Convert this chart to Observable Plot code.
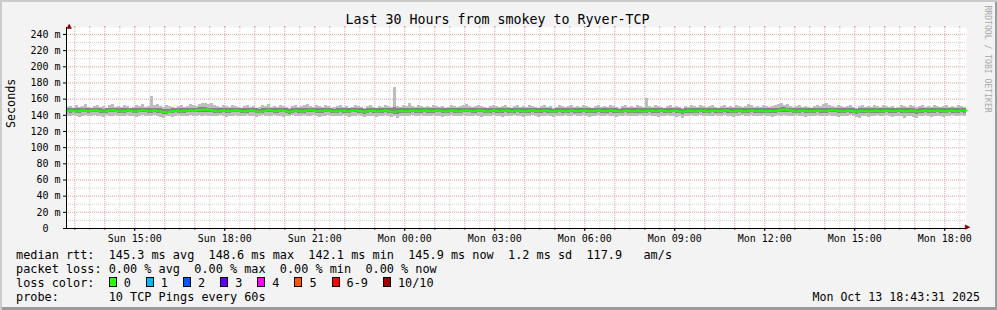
<!DOCTYPE html>
<html><head><meta charset="utf-8">
<script src="https://cdn.jsdelivr.net/npm/d3@7"></script>
<script src="https://cdn.jsdelivr.net/npm/@observablehq/plot@0.6"></script>
<style>
html,body{margin:0;padding:0;background:#f3f3f3;}
#wrap{position:relative;width:997px;height:310px;background:#f3f3f3;overflow:hidden;font-family:"DejaVu Sans Mono",monospace;color:#000;}
#wrap::after{content:"";position:absolute;left:0;top:0;right:0;bottom:0;box-shadow:inset 2px 2px 0 #cbcbcb, inset -2px -3px 0 #9b9b9b;pointer-events:none;}
#chart{position:absolute;left:0;top:0;}
.title{position:absolute;left:-1px;top:12.5px;width:997px;text-align:center;font-size:13.3px;line-height:1;white-space:pre;}
.leg{position:absolute;left:16px;font-size:11.85px;line-height:14px;white-space:pre;}
.date{position:absolute;right:17px;font-size:11.6px;line-height:14px;white-space:pre;}
.box{display:inline-block;width:8px;height:10px;box-sizing:border-box;border:1px solid #000;margin-right:7px;vertical-align:baseline;}
.lab{margin-right:15px;}
</style>
</head><body>
<div id="wrap">
  <div id="chart"></div>
  <div class="title" id="title"></div>
  <div class="leg" id="l1" style="top:247.5px"></div>
  <div class="leg" id="l2" style="top:261.5px"></div>
  <div class="leg" id="l3" style="top:275.5px"></div>
  <div class="leg" id="l4" style="top:289.5px"></div>
  <div class="date" id="dt" style="top:289.5px"></div>
</div>
<script>
// ---------- data ----------
const titleText = "Last 30 Hours from smokey to Ryver-TCP";
const yLabelText = "Seconds";
const watermark = "RRDTOOL / TOBI OETIKER";
const startUTC = [2025, 9, 12, 12, 43, 31]; // Sun Oct 12 12:43:31
const stepMinutes = 6;
const spanHours = 30;
const yTickValues = [0, 20, 40, 60, 80, 100, 120, 140, 160, 180, 200, 220, 240];
const yTop = 248.6;

// median rtt (ms), one value per 6 minutes
const median = [
145.2,145.6,145.0,144.8,145.4,145.9,145.3,144.9,145.5,146.0,
145.7,145.1,144.6,145.2,145.8,146.2,145.6,145.0,144.7,145.3,
145.9,145.4,144.8,145.1,145.7,146.1,145.5,144.9,145.2,145.8,
145.3,144.6,144.1,143.8,144.5,145.2,145.6,145.0,144.7,145.4,
145.5,145.9,145.6,146.2,146.6,146.9,147.3,146.8,146.0,145.3,
144.8,145.3,145.7,145.2,144.9,145.5,146.0,145.6,145.1,144.7,
145.2,145.8,145.4,144.8,144.5,145.1,145.7,146.1,145.5,145.0,
145.3,145.9,145.4,144.7,144.4,145.0,145.6,145.2,144.8,145.3,
145.8,146.2,145.7,145.1,144.9,145.4,145.9,145.5,145.0,144.6,
145.1,145.6,145.2,144.7,145.0,145.5,145.9,145.3,144.8,144.5,
145.0,145.6,145.2,144.6,144.9,145.4,145.8,145.1,144.6,144.3,
144.9,145.4,145.0,144.7,145.2,145.7,145.3,144.9,145.4,145.8,
145.4,144.9,145.3,145.8,145.5,145.0,144.7,145.2,145.7,145.3,
144.8,145.1,145.6,146.0,145.5,145.1,145.4,145.9,145.6,145.0,
144.7,145.2,145.8,145.4,144.9,145.3,145.7,145.2,144.8,145.1,
145.6,145.2,144.7,145.0,145.5,145.9,145.4,144.9,145.2,145.7,
145.3,144.8,144.6,145.1,145.6,145.2,144.8,145.3,145.8,145.4,
144.9,145.2,145.7,145.3,144.8,145.0,145.5,145.9,145.4,145.0,
145.3,145.8,145.4,144.9,144.6,145.1,145.6,145.2,144.7,145.0,
145.5,145.1,144.8,145.3,145.7,145.2,144.9,145.4,145.8,145.3,
144.8,145.1,145.6,145.2,144.7,144.5,145.0,145.5,145.1,144.8,
145.3,145.7,145.2,144.8,145.1,145.6,145.3,144.9,145.4,145.9,
145.5,145.0,144.7,145.2,145.6,145.1,144.8,145.3,145.7,145.4,
145.0,145.5,145.1,144.8,145.2,145.0,145.4,146.0,146.8,147.2,
146.5,145.8,145.1,144.8,145.2,145.7,145.3,144.9,144.7,145.2,
145.7,145.3,144.9,145.4,145.9,146.3,145.8,145.2,144.8,145.1,
145.6,145.2,144.7,144.4,144.9,145.4,145.0,144.6,145.1,145.5,
145.2,144.8,145.3,145.7,145.3,144.9,145.2,145.6,145.2,144.7,
145.0,145.5,145.1,144.6,144.9,145.4,145.8,145.3,144.9,145.2,
145.7,145.3,144.8,145.1,145.6,145.2,144.9,145.4,145.8,145.5,
145.9
];
// smoke: highest ping per step (ms)
const smokeMax = [
150,151,149,152,150,151,153,150,149,151,
152,150,151,149,152,153,150,151,150,152,
151,149,150,152,151,153,150,151,163,152,
153,151,150,152,151,150,149,151,152,150,
151,153,152,151,153,155,154,153,154,152,
151,150,152,151,150,152,151,150,149,151,
152,150,151,149,150,152,151,153,150,151,
150,152,151,150,149,151,152,150,151,152,
153,151,150,152,151,150,152,151,149,150,
151,152,150,151,149,150,152,151,150,149,
151,152,150,149,151,150,152,151,150,175,
151,150,152,151,154,151,150,152,151,150,
151,150,152,151,150,151,149,150,152,151,
150,151,152,153,151,150,151,152,151,150,
149,151,152,151,150,151,152,150,149,151,
152,150,151,150,152,151,150,149,151,152,
150,151,149,150,152,151,150,151,152,150,
151,150,152,151,150,149,151,152,150,151,
150,152,151,150,149,151,152,150,151,150,
152,151,150,161,151,150,152,151,150,149,
151,152,150,151,150,149,151,150,152,151,
150,152,151,150,151,152,150,149,151,152,
150,151,150,152,151,150,151,153,152,150,
151,150,152,151,150,151,152,153,154,152,
153,151,150,151,152,150,151,150,149,151,
152,151,153,154,152,151,150,152,151,150,
151,152,150,149,151,152,150,151,150,152,
151,150,152,151,150,151,149,150,152,151,
150,152,151,150,151,152,150,151,150,152,
151,150,151,152,150,151,150,152,151,150,
151
];
// smoke: lowest ping per step (ms)
const smokeMin = [
139,138,140,139,137,139,140,138,139,140,
138,139,137,140,139,138,140,139,138,139,
140,138,139,137,139,140,138,139,138,140,
139,137,136,138,139,137,138,140,139,138,
139,140,139,138,140,139,140,139,138,139,
138,140,139,137,139,138,140,139,138,139,
140,138,139,137,138,140,139,138,139,140,
138,139,137,138,139,140,138,139,138,140,
139,138,140,139,137,139,138,140,139,138,
139,138,140,139,137,138,139,140,138,137,
139,138,139,137,138,139,140,138,137,139,
136,138,139,138,139,140,138,139,140,139,
138,139,140,138,139,137,138,139,140,138,
139,138,140,139,138,139,140,138,137,139,
138,139,140,138,139,137,139,138,139,140,
139,138,137,139,138,140,139,137,138,139,
140,138,137,139,138,139,140,138,139,140,
138,139,140,139,137,138,139,140,138,139,
140,138,139,137,138,139,140,138,139,138,
139,140,138,139,140,138,139,137,138,139,
140,138,139,137,138,136,138,139,140,138,
139,140,138,139,138,139,140,138,139,140,
138,139,137,138,139,140,138,139,140,139,
138,139,140,138,139,137,139,140,139,140,
139,138,139,140,138,139,137,138,139,138,
140,139,138,139,140,139,138,137,139,138,
139,140,138,137,136,138,139,137,138,139,
140,138,139,140,138,137,139,138,139,136,
138,139,137,136,138,139,140,138,137,139,
138,139,137,138,139,140,138,139,140,139,
139
];
// smoke: inner (denser) band low / high (ms)
const innerLo = [
143,142,143,142,142,143,143,142,143,143,
143,142,142,142,143,144,143,142,142,142,
143,143,142,142,143,144,143,142,142,143,
142,142,141,141,142,142,143,142,142,142,
143,144,143,143,144,144,144,143,143,142,
142,142,143,142,142,143,143,143,142,142,
142,143,143,142,142,142,143,143,143,142,
142,143,143,142,141,142,143,142,142,142,
143,144,143,142,142,142,143,143,142,142,
142,143,142,142,142,143,143,142,142,141,
142,143,142,142,142,142,143,142,142,141,
141,142,142,142,142,143,142,142,142,143,
142,142,142,143,143,142,142,142,143,142,
142,142,143,143,143,142,142,143,143,142,
142,142,143,142,142,142,143,142,142,142,
143,142,142,142,142,143,142,142,142,143,
142,142,142,142,143,142,142,142,143,142,
142,142,143,142,142,142,142,143,142,142,
142,143,142,142,142,142,143,142,142,142,
142,142,142,142,143,142,142,142,143,142,
142,142,143,142,142,141,142,142,142,142,
142,143,142,142,142,143,142,142,142,143,
142,142,142,142,143,142,142,142,143,142,
142,142,142,142,142,142,142,143,144,144,
144,143,142,142,142,143,142,142,142,142,
143,142,142,142,143,143,143,142,142,142,
143,142,142,141,142,142,142,142,142,142,
142,142,142,143,142,142,142,143,142,142,
142,142,142,141,142,142,143,142,142,142,
143,142,142,142,143,142,142,142,143,142,
143
];
const innerHi = [
148,149,148,148,148,149,148,148,148,149,
149,148,147,148,149,149,149,148,148,148,
149,148,148,148,149,149,148,148,149,149,
148,148,147,147,147,148,149,148,148,148,
149,149,149,149,150,150,150,149,149,148,
148,148,149,148,148,148,149,149,148,148,
148,149,148,148,147,148,149,149,148,148,
148,149,148,148,147,148,149,148,148,148,
149,149,149,148,148,148,149,148,148,147,
148,149,148,148,148,148,149,148,148,147,
148,149,148,148,148,148,149,148,148,150,
148,148,148,148,149,149,148,148,148,149,
148,148,148,149,148,148,148,148,149,148,
148,148,149,149,148,148,148,149,149,148,
148,148,149,148,148,148,149,148,148,148,
149,148,148,148,148,149,148,148,148,149,
148,148,147,148,149,148,148,148,149,148,
148,148,149,148,148,148,148,149,148,148,
148,149,148,148,147,148,149,148,148,148,
148,148,148,149,149,148,148,148,149,148,
148,148,149,148,148,147,148,148,148,148,
148,149,148,148,148,149,148,148,148,149,
148,148,148,148,149,148,148,148,149,148,
148,148,148,148,148,148,148,149,150,150,
149,149,148,148,148,149,148,148,148,148,
149,148,148,149,149,149,149,148,148,148,
149,148,148,147,148,148,148,148,148,148,
148,148,148,149,148,148,148,149,148,148,
148,148,148,147,148,148,149,148,148,148,
149,148,148,148,149,148,148,148,149,148,
149
];

// legend texts
const statsLine = "median rtt:  145.3 ms avg  148.6 ms max  142.1 ms min  145.9 ms now  1.2 ms sd  117.9   am/s";
const lossLine = "packet loss: 0.00 % avg  0.00 % max  0.00 % min  0.00 % now";
const lossLabels = ["0", "1", "2", "3", "4", "5", "6-9", "10/10"];
const lossColors = ["#26ff00", "#00b8ff", "#0059ff", "#5e00ff", "#ff00fe", "#ff5500", "#ff0000", "#a10000"];
const probeLine = "probe:       10 TCP Pings every 60s";
const dateText = "Mon Oct 13 18:43:31 2025";

// ---------- build ----------
const start = new Date(Date.UTC(...startUTC));
const end = new Date(+start + spanHours * 3600e3);
const rows = median.map((m, i) => ({
  t: new Date(+start + i * stepMinutes * 60e3),
  med: m, min: smokeMin[i], max: smokeMax[i], lo: innerLo[i], hi: innerHi[i]
}));

const minorY = d3.range(0, yTop, 10);
const halfHours = d3.utcMinute.every(30).range(start, end);
const hours = d3.utcHour.range(start, end);
const threeHours = d3.utcHour.every(3).range(start, end);
const fmt = d3.utcFormat("%a %H:%M");

const chart = Plot.plot({
  width: 997, height: 310,
  marginTop: 27, marginLeft: 66, marginRight: 31, marginBottom: 82,
  style: {background: "transparent", fontFamily: "DejaVu Sans Mono", fontSize: "10px", color: "#000", overflow: "visible"},
  x: {type: "utc", domain: [start, end]},
  y: {domain: [0, yTop]},
  marks: [
    Plot.frame({fill: "white", stroke: "none"}),
    Plot.ruleY(minorY, {stroke: "#d0d0d0", strokeDasharray: "1,1"}),
    Plot.ruleX(halfHours, {stroke: "#d0d0d0", strokeDasharray: "1,1"}),
    Plot.ruleY(yTickValues.filter(d => d > 0), {stroke: "#f5b0b0", strokeDasharray: "1,1"}),
    Plot.ruleX(hours, {stroke: "#f5b0b0", strokeDasharray: "1,1"}),
    Plot.areaY(rows, {x: "t", y1: "min", y2: "max", curve: "step-after", fill: "#bdbdbd", shapeRendering: "crispEdges"}),
    Plot.areaY(rows, {x: "t", y1: "lo", y2: "hi", curve: "step-after", fill: "#7a7a7a", fillOpacity: 0.85, shapeRendering: "crispEdges"}),
    Plot.lineY(rows, {x: "t", y: "med", curve: "step-after", stroke: "#1eff00", strokeWidth: 2}),
    Plot.axisX(halfHours, {tickSize: 2, stroke: "#b0b0b0", tickFormat: () => "", label: null}),
    Plot.axisX(hours, {tickSize: 2, stroke: "#e05050", tickFormat: () => "", label: null}),
    Plot.axisX(halfHours, {anchor: "top", tickSize: 2, stroke: "#c0c0c0", tickFormat: () => "", label: null}),
    Plot.axisX(hours, {anchor: "top", tickSize: 2, stroke: "#f0a0a0", tickFormat: () => "", label: null}),
    Plot.axisX(threeHours, {tickSize: 3, tickPadding: 3, tickFormat: fmt, label: null, stroke: "#000"}),
    Plot.axisY(yTickValues, {tickSize: 3, tickPadding: 3, label: null,
      tickFormat: d => d === 0 ? "0\u00a0\u00a0" : `${d} m`}),
    Plot.ruleY([0], {stroke: "#000"}),
    Plot.ruleX([start], {stroke: "#000"}),
    Plot.text(["\u25B2"], {frameAnchor: "top-left", dy: -4, fill: "#8b0000", fontSize: 7, fontFamily: "DejaVu Sans"}),
    Plot.text(["\u25B6"], {frameAnchor: "bottom-right", dx: 4, fill: "#8b0000", fontSize: 7, fontFamily: "DejaVu Sans"}),
    Plot.text([yLabelText], {frameAnchor: "left", dx: -55, rotate: -90, fontSize: 11.7, fontFamily: "DejaVu Sans Mono", fill: "#000"}),
    Plot.text([watermark], {frameAnchor: "top-right", dx: 21, dy: -22, rotate: 90, textAnchor: "start", lineAnchor: "middle",
      fontSize: 8.1, fontFamily: "DejaVu Sans Mono", fill: "#a8a8a8"})
  ]
});
document.getElementById("chart").appendChild(chart);

document.getElementById("title").textContent = titleText;
document.getElementById("l1").textContent = statsLine;
document.getElementById("l2").textContent = lossLine;
const l3 = document.getElementById("l3");
l3.appendChild(document.createTextNode("loss color:  "));
lossLabels.forEach((lab, i) => {
  const b = document.createElement("span");
  b.className = "box"; b.style.background = lossColors[i];
  l3.appendChild(b);
  const s = document.createElement("span");
  s.className = "lab"; s.textContent = lab;
  l3.appendChild(s);
});
document.getElementById("l4").textContent = probeLine;
document.getElementById("dt").textContent = dateText;
</script>
</body></html>
